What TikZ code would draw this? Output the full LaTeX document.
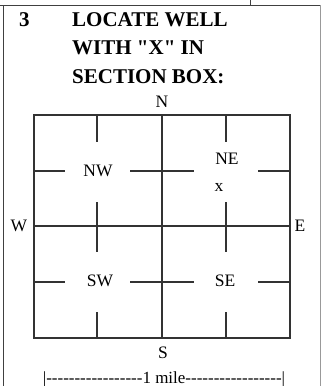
\documentclass[tikz,border=0pt]{standalone}
\usepackage{fontspec}
\setmainfont{Liberation Serif}
\newfontfamily\plainfont{Liberation Serif}
\usetikzlibrary{positioning}

\begin{document}
\begin{tikzpicture}[x=1pt, y=-1pt,
    frame/.style={line width=0.8pt, black!75},
    grid/.style={line width=1.1pt, black!80},
    head/.style={font=\fontsize{21}{28.5}\plainfont\bfseries, anchor=base west, inner sep=0pt},
    lab/.style={font=\fontsize{17.5}{18}\selectfont, inner sep=1pt}]
  \useasboundingbox (0,0) rectangle (321,386);
  % form frame
  \draw[frame] (0,5) -- (321,5);
  \draw[frame] (3,5) -- (3,386);
  \draw[frame] (250,0) -- (250,5);
  \draw[line width=0.6pt, black!40] (320,5) -- (320,386);
  % heading
  \node[head] (num) at (19,26) {3};
  \node[head] (title1) at (72,26) {LOCATE WELL};
  \node[head] (title2) at (72,54.5) {WITH "X" IN};
  \node[head] (title3) at (72,83) {SECTION BOX:};
  % section box
  \coordinate (nwc) at (34,115);
  \coordinate (sec) at (290,338);
  \draw[grid] (nwc) rectangle (sec);
  \draw[grid] (162,115) -- (162,338);
  \draw[grid] (34,226) -- (290,226);
  % quarter-quarter ticks
  \foreach \x in {97,226} {
    \draw[grid] (\x,115) -- (\x,142);
    \draw[grid] (\x,202) -- (\x,252);
    \draw[grid] (\x,312) -- (\x,338);
  }
  \foreach \y in {171,282} {
    \draw[grid] (34,\y) -- (65,\y);
    \draw[grid] (130,\y) -- (194,\y);
    \draw[grid] (258,\y) -- (290,\y);
  }
  % quarter labels
  \node[lab] (nw) at (98,171) {NW};
  \node[lab] (ne) at (227,159) {NE};
  \node[lab] (well) at (219,187) {x};
  \node[lab] (sw) at (100,281) {SW};
  \node[lab] (se) at (225,281) {SE};
  % compass
  \node[lab] (north) at (162,102) {N};
  \node[lab] (west) at (19,226) {W};
  \node[lab] (east) at (300,226) {E};
  \node[lab] (south) at (163,353) {S};
  % scale
  \node[lab, anchor=base, font=\fontsize{17}{18}\plainfont] (mile) at (164,383)
    {|-----------------1 mile-----------------|};
\end{tikzpicture}
\end{document}
